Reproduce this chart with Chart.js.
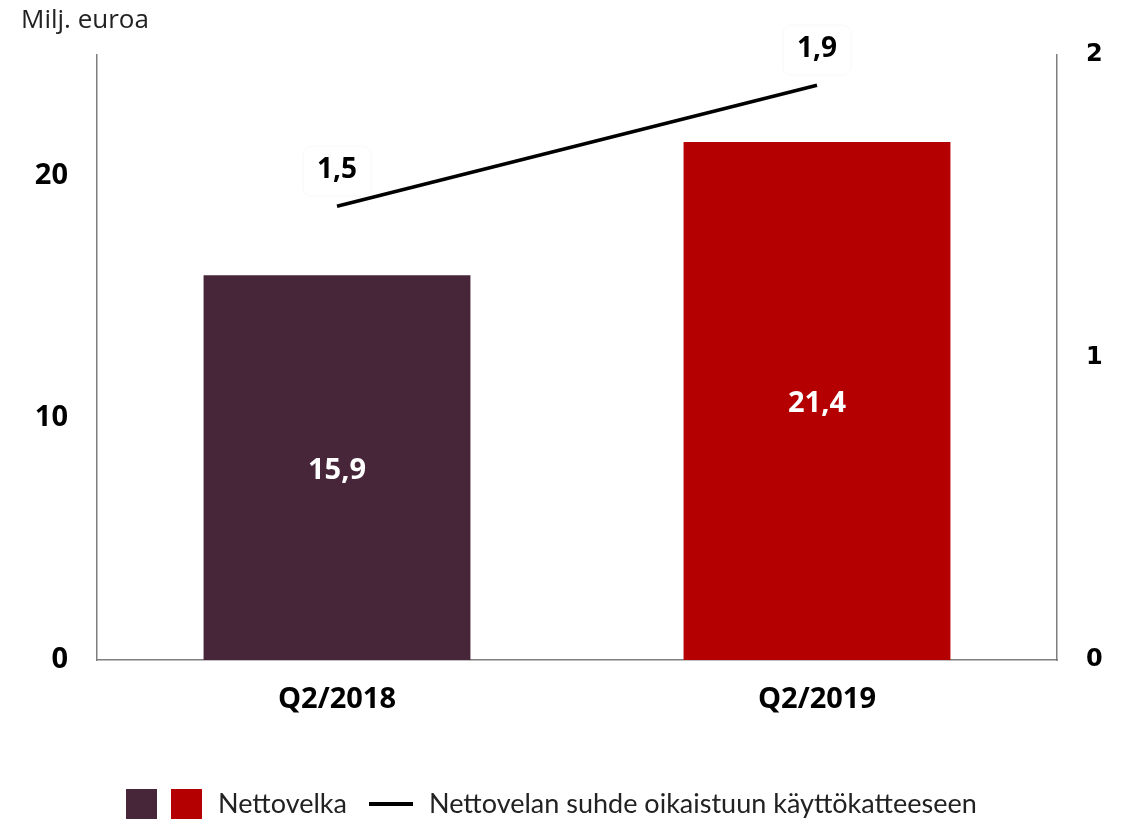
<!DOCTYPE html>
<html>
<head>
<meta charset="utf-8">
<script src="https://cdn.jsdelivr.net/npm/chart.js@4/dist/chart.umd.min.js"></script>
<style>
  html, body { margin: 0; padding: 0; background: #fff; }
  #wrap { width: 1122px; height: 819px; position: relative; }
</style>
</head>
<body>
<div id="wrap"><canvas id="chart"></canvas></div>
<script>
const categories = ['Q2/2018', 'Q2/2019'];
const nettovelka = [15.9, 21.4];
const suhde = [1.5, 1.9];
const barColors = ['#47263A', '#B40000'];
const leftTicks = [0, 10, 20];
const rightTicks = [0, 1, 2];

function fmt(v) {
    return String(v).replace('.', ',');
}

// labels on bars and on the line points, plus title and legend
const extras = {
    id: 'extras',
    afterDatasetsDraw(chart) {
        const ctx = chart.ctx;
        ctx.save();
        ctx.textAlign = 'center';
        ctx.textBaseline = 'middle';

        // bar values
        const barMeta = chart.getDatasetMeta(0);
        ctx.font = 'bold 29px "Open Sans"';
        ctx.fillStyle = '#fff';
        barMeta.data.forEach(function (bar, i) {
            const mid = (bar.y + bar.base) / 2;
            ctx.fillText(fmt(nettovelka[i]), bar.x, mid + 3);
        });

        // line values with a faint box
        const lineMeta = chart.getDatasetMeta(1);
        lineMeta.data.forEach(function (pt, i) {
            const cy = pt.y - 36;
            ctx.fillStyle = '#fff';
            ctx.strokeStyle = 'rgba(0,0,0,0.015)';
            ctx.lineWidth = 2;
            ctx.beginPath();
            ctx.roundRect(pt.x - 34, cy - 24, 68, 50, 8);
            ctx.fill();
            ctx.stroke();
            ctx.fillStyle = '#000';
            ctx.font = 'bold 28px "Open Sans"';
            ctx.fillText(fmt(suhde[i]), pt.x, cy);
        });

        // title
        ctx.textAlign = 'left';
        ctx.fillStyle = '#222';
        ctx.font = '26px "Open Sans"';
        ctx.fillText('Milj. euroa', 21, 21);

        // legend
        const ly = 804;
        ctx.fillStyle = barColors[0];
        ctx.fillRect(126, 789, 31, 31);
        ctx.fillStyle = barColors[1];
        ctx.fillRect(171, 789, 31, 31);
        ctx.fillStyle = '#222';
        ctx.font = '27px Lato';
        ctx.fillText('Nettovelka', 218, ly);
        ctx.strokeStyle = '#000';
        ctx.lineWidth = 4;
        ctx.beginPath();
        ctx.moveTo(369, ly);
        ctx.lineTo(413, ly);
        ctx.stroke();
        ctx.fillText('Nettovelan suhde oikaistuun käyttökatteeseen', 429, ly);
        ctx.restore();
    }
};

function build() {
    new Chart(document.getElementById('chart'), {
        data: {
            labels: categories,
            datasets: [
                {
                    type: 'bar',
                    data: nettovelka,
                    backgroundColor: barColors,
                    yAxisID: 'y',
                    categoryPercentage: 1,
                    barPercentage: 0.556,
                    order: 2
                },
                {
                    type: 'line',
                    data: suhde,
                    borderColor: '#000',
                    borderWidth: 3.5,
                    pointRadius: 0,
                    yAxisID: 'y1',
                    order: 1
                }
            ]
        },
        options: {
            responsive: true,
            maintainAspectRatio: false,
            animation: false,
            layout: { padding: { left: 0, right: 0, top: 55, bottom: 0 } },
            plugins: { legend: { display: false }, tooltip: { enabled: false } },
            scales: {
                x: {
                    grid: { display: false, drawTicks: false },
                    border: { color: '#7f7f7f', width: 1.5 },
                    ticks: {
                        color: '#000',
                        font: { family: 'Open Sans', weight: 'bold', size: 29 },
                        padding: 22
                    },
                    afterFit(scale) { scale.height = 159; }
                },
                y: {
                    position: 'left',
                    min: 0,
                    max: 25,
                    afterBuildTicks(scale) { scale.ticks = leftTicks.map(v => ({ value: v })); },
                    grid: { display: false, drawTicks: false },
                    border: { color: '#7f7f7f', width: 1.5 },
                    ticks: {
                        color: '#000',
                        font: { family: 'Open Sans', weight: 'bold', size: 29 },
                        padding: 29
                    },
                    afterFit(scale) { scale.width = 97; }
                },
                y1: {
                    position: 'right',
                    min: 0,
                    max: 2,
                    afterBuildTicks(scale) { scale.ticks = rightTicks.map(v => ({ value: v })); },
                    grid: { display: false, drawTicks: false },
                    border: { color: '#7f7f7f', width: 1.5 },
                    ticks: {
                        color: '#000',
                        font: { family: 'DejaVu Sans', weight: 'bold', size: 24 },
                        padding: 29
                    },
                    afterFit(scale) { scale.width = 65; }
                }
            }
        },
        plugins: [extras]
    });
}

Promise.all([
    document.fonts.load('bold 29px "Open Sans"'),
    document.fonts.load('26px "Open Sans"'),
    document.fonts.load('27px Lato'),
    document.fonts.load('bold 24px "DejaVu Sans"')
]).then(build, build);
</script>
</body>
</html>
